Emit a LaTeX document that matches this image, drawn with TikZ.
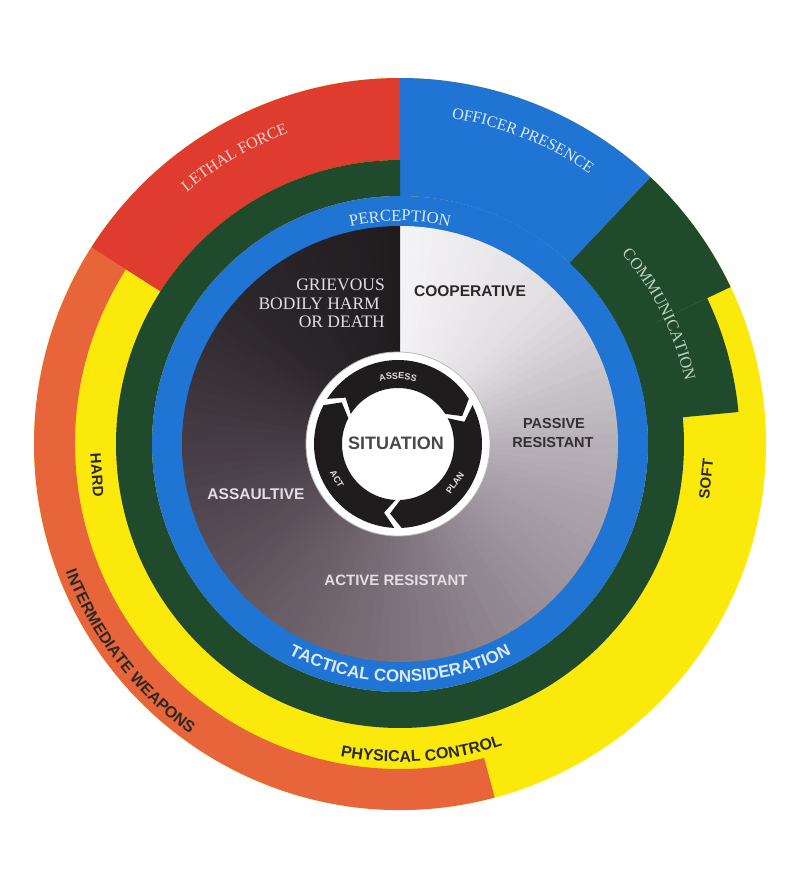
\documentclass[tikz,border=0pt]{standalone}
\usepackage{fontspec}
\setmainfont{Liberation Serif}
\newfontfamily\lsans{Liberation Sans}
\usetikzlibrary{decorations.text}
\definecolor{cred}{HTML}{DF3B2F}
\definecolor{cblue}{HTML}{1F74D4}
\definecolor{cgreen}{HTML}{1F4A2B}
\definecolor{cyellow}{HTML}{FCE90C}
\definecolor{corange}{HTML}{E8643A}
\definecolor{cblack}{HTML}{1E1C1D}
\definecolor{g0}{HTML}{F4F3F5}
\definecolor{g1}{HTML}{E2DFE3}
\definecolor{g2}{HTML}{B7B0B8}
\definecolor{g3}{HTML}{9A919A}
\definecolor{g4}{HTML}{7E727C}
\definecolor{g5}{HTML}{62565F}
\definecolor{g6}{HTML}{463C45}
\definecolor{g7}{HTML}{2B262A}
\definecolor{g8}{HTML}{201C1E}
\definecolor{lfc}{HTML}{F5D8D0}
\definecolor{bluetxt}{HTML}{DCEAF8}
\definecolor{commtxt}{HTML}{BFD2C4}
\definecolor{darktxt}{HTML}{2B2926}
\definecolor{lighttxt}{HTML}{E2DEE2}
\newcommand\ringsec[5]{\fill[#1] (#2:#4) arc[start angle=#2,end angle=#3,radius=#4] -- (#3:#5) arc[start angle=#3,end angle=#2,radius=#5] -- cycle;}
\tikzset{
  sanslbl/.style={font=\lsans\bfseries\fontsize{15}{17}\selectfont, inner sep=0pt},
  seriflbl/.style={font=\rmfamily\fontsize{17.5}{19}\selectfont, inner sep=0pt, text=lighttxt},
  arrowlbl/.style={font=\lsans\bfseries\fontsize{9}{10}\selectfont, inner sep=0pt, text=lighttxt}
}
\begin{document}
\begin{tikzpicture}[x=1pt,y=1pt]
\useasboundingbox (-400,-434) rectangle (393,444);
\fill[white] (-400,-434) rectangle (393,444);
% outer ring
\fill[cyellow] (0,0) circle[radius=366];
\ringsec{corange}{147.5}{285}{325}{366}
\ringsec{cred}{90}{147.5}{284}{366}
\ringsec{cblue}{46.8}{90}{248}{366}
\ringsec{cgreen}{25.4}{46.8}{248}{366}
\ringsec{cgreen}{5.4}{25.4}{248}{340}
\ringsec{cgreen}{90}{406.8}{248}{284}
% blue ring
\fill[cblue] (0,0) circle[radius=248];
% inner conic disk
\foreach \s/\ca/\cb in {0/g0/g1,1/g1/g2,2/g2/g3,3/g3/g4,4/g4/g5,5/g5/g6,6/g6/g7,7/g7/g8} {
  \foreach \k in {0,...,14} {
    \pgfmathsetmacro\aa{90-45*\s-3*\k}
    \pgfmathsetmacro\bb{max(\aa-3.4,-270)}
    \pgfmathtruncatemacro\p{100-(\k+0.5)*100/15}
    \fill[\ca!\p!\cb] (0,0) -- (\aa:218) arc[start angle=\aa,end angle=\bb,radius=218] -- cycle;
  }
}
% curved outer labels
\path[decorate,decoration={text along path,text align=center,text color=lfc,
  text={|\rmfamily\fontsize{16}{16}\selectfont|LETHAL FORCE}}]
  (140:330) arc[start angle=140,end angle=100,radius=330];
\path[decorate,decoration={text along path,text align=center,text color=bluetxt,
  text={|\rmfamily\fontsize{16}{16}\selectfont|OFFICER PRESENCE}}]
  (88:330) arc[start angle=88,end angle=48,radius=330];
\path[decorate,decoration={text along path,text align=center,text color=commtxt,
  text={|\rmfamily\fontsize{16.5}{16}\selectfont|COMMUNICATION}}]
  (45:292) arc[start angle=45,end angle=8,radius=292];
\path[decorate,decoration={text along path,text align=center,text color=bluetxt,
  text={|\rmfamily\fontsize{16.5}{16}\selectfont|PERCEPTION}}]
  (110:223) arc[start angle=110,end angle=70,radius=223];
\path[decorate,decoration={text along path,text align=center,text color=bluetxt,
  text={|\lsans\bfseries\fontsize{17}{17}\selectfont|TACTICAL CONSIDERATION}}]
  (236:238) arc[start angle=236,end angle=304,radius=238];
\path[decorate,decoration={text along path,text align=center,text color=darktxt,
  text={|\lsans\bfseries\fontsize{16}{16}\selectfont|PHYSICAL CONTROL}}]
  (248:318) arc[start angle=248,end angle=300,radius=318];
\path[decorate,decoration={text along path,text align=center,text color=darktxt,
  text={|\lsans\bfseries\fontsize{16}{16}\selectfont|INTERMEDIATE WEAPONS}}]
  (188:358) arc[start angle=188,end angle=247,radius=358];
% straight labels
\node[sanslbl,text=darktxt,rotate=-86] (hard) at (-303,-31) {HARD};
\node[sanslbl,text=darktxt,rotate=84] (soft) at (306,-35) {SOFT};
\node[seriflbl,anchor=east] (gri1) at (-15,159.5) {GRIEVOUS};
\node[seriflbl,anchor=east] (gri2) at (-20,140) {BODILY HARM};
\node[seriflbl,anchor=east] (gri3) at (-15,122) {OR DEATH};
\node[sanslbl,text=darktxt,font=\lsans\bfseries\fontsize{15.5}{17}\selectfont] (coop) at (70,153) {COOPERATIVE};
\node[sanslbl,font=\lsans\bfseries\fontsize{14.5}{17}\selectfont,text=darktxt!90!g4] (pas1) at (154,20) {PASSIVE};
\node[sanslbl,font=\lsans\bfseries\fontsize{14.5}{17}\selectfont,text=darktxt!90!g4] (pas2) at (153,1) {RESISTANT};
\node[sanslbl,text=lighttxt,font=\lsans\bfseries\fontsize{15.5}{17}\selectfont] (assa) at (-144,-50.5) {ASSAULTIVE};
\node[sanslbl,text=lighttxt] (actr) at (-4,-136) {ACTIVE RESISTANT};
% situation
\begin{scope}[shift={(-2,0)}]
  \fill[white] (0,0) circle[radius=92];
  \draw[gray!55,line width=0.8pt] (0,0) circle[radius=92];
  \foreach \a/\b in {147.5/32.5, 27.5/-87.5, -92.5/-207.5} {
    \pgfmathsetmacro\at{\b-9}
    \pgfmathsetmacro\an{\a-9}
    \fill[cblack] (\a:84) arc[start angle=\a,end angle=\b,radius=84] -- (\at:70) -- (\b:56)
      arc[start angle=\b,end angle=\a,radius=56] -- (\an:70) -- cycle;
  }
  \path[decorate,decoration={text along path,text align=center,text color=lighttxt,
    text={|\lsans\bfseries\fontsize{9}{9}\selectfont|ASSESS}}]
    (120:65) arc[start angle=120,end angle=60,radius=65];
  \node[sanslbl,text=darktxt!85,font=\lsans\bfseries\fontsize{18}{20}\selectfont] (sit) at (-2,0.5) {SITUATION};
\end{scope}
\node[arrowlbl,rotate=55] (plan) at (55,-39) {PLAN};
\node[arrowlbl,rotate=-60] (act) at (-63,-35) {ACT};
\end{tikzpicture}
\end{document}
